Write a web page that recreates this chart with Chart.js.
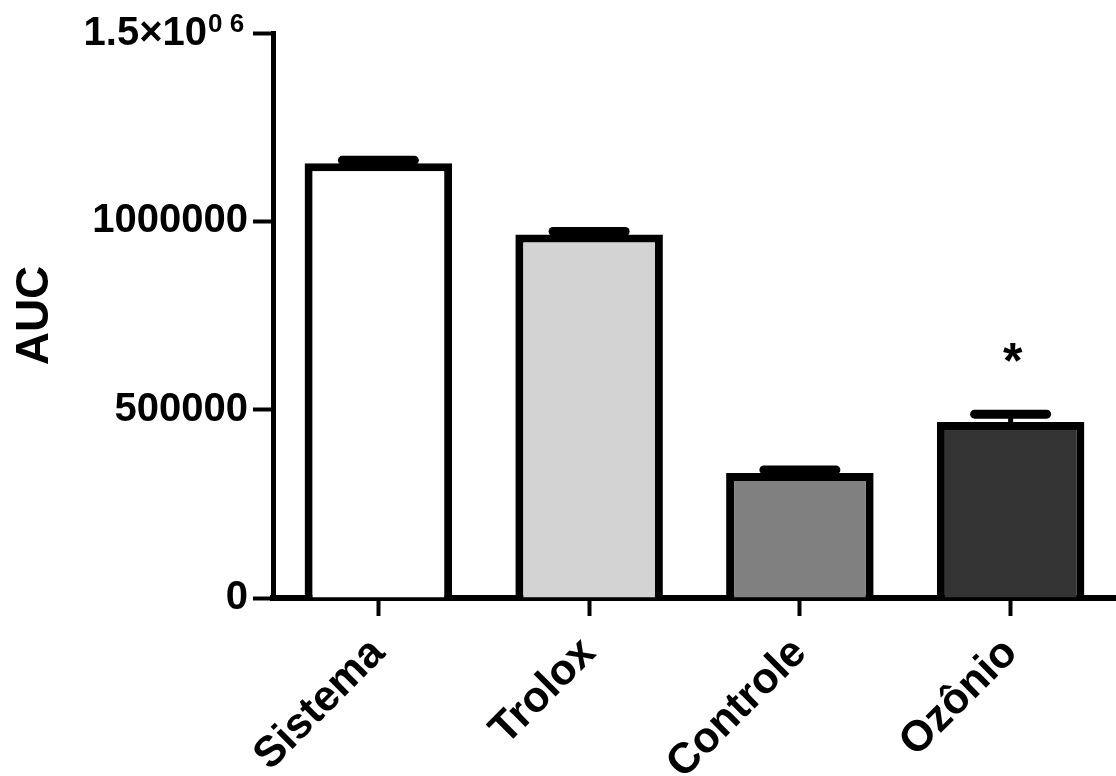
<!DOCTYPE html>
<html>
<head>
<meta charset="utf-8">
<script src="https://cdn.jsdelivr.net/npm/chart.js@4"></script>
<style>
  html, body { margin: 0; padding: 0; background: #fff; }
  #wrap { width: 1116px; height: 776px; }
</style>
</head>
<body>
<div id="wrap"><canvas id="aucChart"></canvas></div>
<script>
const groups = ["Sistema", "Trolox", "Controle", "Ozônio"];
const aucMeans = [1154000, 965000, 332000, 467000];
const aucSem = [8000, 8000, 8000, 21000];
const starred = [false, false, false, true];
const yTicks = [0, 500000, 1000000, 1500000];
const yTickLabels = ["0", "500000", "1000000", ""];
// top tick is written by hand: base + superscript, as in the original figure
const topTickBase = "1.5×10";
const topTickSup = "0 6";

const family = "'Liberation Sans', Arial, sans-serif";
const font = { family: family, weight: "bold", size: 40 };

// error bars (upper only) + significance star, drawn through the y scale
const errorBars = {
  id: "errorBars",
  afterDatasetsDraw(chart) {
    const ctx = chart.ctx;
    const y = chart.scales.y;
    const meta = chart.getDatasetMeta(0);
    ctx.save();
    ctx.strokeStyle = "#000";
    ctx.lineCap = "round";
    meta.data.forEach((bar, i) => {
      const top = y.getPixelForValue(aucMeans[i] + aucSem[i]);
      ctx.lineWidth = 5;
      ctx.beginPath();
      ctx.moveTo(bar.x, bar.y);
      ctx.lineTo(bar.x, top);
      ctx.stroke();
      ctx.lineWidth = 9;
      ctx.beginPath();
      ctx.moveTo(bar.x - 36, top);
      ctx.lineTo(bar.x + 36, top);
      ctx.stroke();
      if (starred[i]) {
        ctx.fillStyle = "#000";
        ctx.font = "bold 50px " + family;
        ctx.textAlign = "center";
        ctx.textBaseline = "middle";
        ctx.fillText("*", bar.x + 2, top - 50);
      }
    });

    // top tick label
    const yp = y.getPixelForValue(yTicks[3]);
    ctx.fillStyle = "#000";
    ctx.textBaseline = "alphabetic";
    ctx.textAlign = "right";
    ctx.font = "bold 40px " + family;
    ctx.fillText(topTickBase, 207, yp + 12);
    ctx.textAlign = "left";
    ctx.font = "bold 26px " + family;
    ctx.fillText(topTickSup, 208, yp - 1);
    ctx.restore();
  }
};

new Chart(document.getElementById("aucChart"), {
  type: "bar",
  data: {
    labels: groups,
    datasets: [{
      data: aucMeans,
      backgroundColor: ["#ffffff", "#d3d3d3", "#808080", "#333333"],
      borderColor: "#000",
      borderWidth: 8,
      borderSkipped: "bottom",
      barPercentage: 0.70,
      categoryPercentage: 1
    }]
  },
  options: {
    responsive: true,
    maintainAspectRatio: false,
    animation: false,
    layout: { padding: { top: 33, right: 0, bottom: 0, left: 0 } },
    plugins: { legend: { display: false }, tooltip: { enabled: false } },
    scales: {
      x: {
        offset: true,
        afterFit(scale) { scale.height = 178; },
        grid: {
          offset: false,
          drawOnChartArea: false,
          drawTicks: true,
          tickLength: 18,
          tickWidth: 4,
          tickColor: "#000"
        },
        border: { display: true, color: "#000", width: 6 },
        ticks: {
          color: "#000",
          font: { family: family, weight: "bold", size: 43 },
          minRotation: 45,
          maxRotation: 45,
          padding: 12
        }
      },
      y: {
        min: 0,
        max: 1500000,
        afterFit(scale) { scale.width = 273; },
        afterBuildTicks(scale) { scale.ticks = yTicks.map(v => ({ value: v })); },
        grid: {
          drawOnChartArea: false,
          drawTicks: true,
          tickLength: 20,
          tickWidth: 4,
          tickColor: "#000"
        },
        border: { display: true, color: "#000", width: 5 },
        ticks: {
          color: "#000",
          font: font,
          padding: 5,
          callback: (v) => yTickLabels[yTicks.indexOf(v)]
        },
        title: {
          display: true,
          text: "AUC",
          color: "#000",
          font: { family: family, weight: "bold", size: 46 },
          padding: { top: 8, bottom: 0 }
        }
      }
    }
  },
  plugins: [errorBars]
});
</script>
</body>
</html>
